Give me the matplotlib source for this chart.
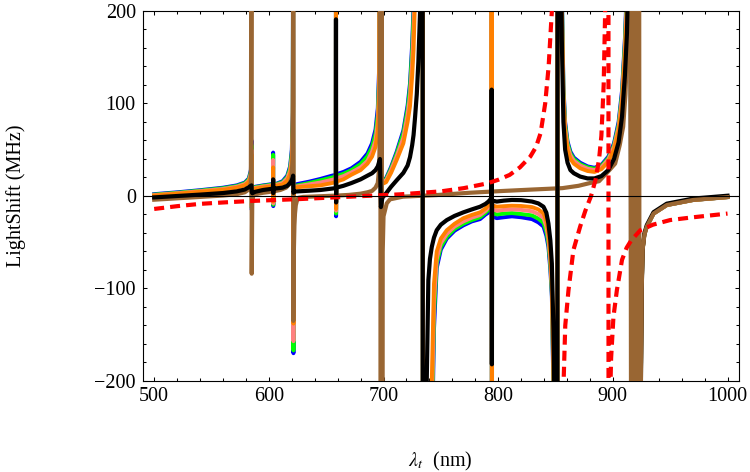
import numpy as np
import matplotlib
matplotlib.use('Agg')
import matplotlib.pyplot as plt

plt.rcParams['font.family'] = ['Liberation Serif', 'DejaVu Serif']
plt.rcParams['mathtext.fontset'] = 'stix'

# wavelength grid shared by the blue/green/pink/orange/black curves (nm)
lam_fam = [
    500, 520, 540, 560, 572, 579, 582.5, 584.3,
    584.9, 585.1,
    585.6, 588, 595, 601, 603.6,
    603.75, 603.85,
    604.0, 607, 612, 616, 618.5, 620, 620.8, 621.15,
    621.45,
    621.8, 625, 635, 645, 655, 658.4,
    658.55, 658.65,
    658.8, 665, 672, 680, 686, 690, 693, 695, 696.2, 696.9,
    697.7, 699, 702.3, 706.6, 711.5, 717.3, 721, 723.1, 725, 726.2, 727.5, 729, 730.4, 731.9, 733.5, 734.0,
    734.4, 736.5, 737.7, 739.1, 740.5, 742.1, 744, 746.4, 750, 755.2, 762, 769.6, 777, 784.2, 789, 791.5, 793.3, 794.1,
    794.3, 794.5,
    794.7, 798.8, 805, 812, 820, 829.5, 835, 839.5, 842, 843.8, 845.5, 846.8, 848.2, 849.7, 851.5,
    851.9, 854, 855.5, 856.9, 858.4, 860.5, 863, 866, 871.5, 878, 884, 890, 896, 901, 905, 908, 910.5, 912.3, 913.6,
    914.8, 916.8, 918.8, 921, 923.2,
    924.5, 925.2, 926, 927.5, 929.6, 935.5, 947, 970, 1000,
]

# light shift (MHz) of each curve on lam_fam
blue = [
    2, 4, 6.3, 9, 11.5, 14.5, 19, 28,
    60, -15,
    8, 10, 11.5, 12.5, 13,
    47, -11,
    13, 13.5, 16, 22, 32, 50, 90, 300,
    -170,
    12, 13, 15.5, 18.5, 22, 23,
    400, -22,
    23.5, 26, 30, 37, 46, 57, 72, 95, 140, 400,
    12.5, 16, 19.5, 31.5, 48, 71, 98, 122, 165, 205, 280, 390, 620, 850, 1000, 1000,
    -1000, -1000, -800, -500, -360, -290, -145, -78, -58, -46, -37.5, -31.8, -27.5, -25, -20, -18, -10, -3,
    1000, -1000,
    -22, -24, -23, -22, -23, -25, -28.5, -33, -43, -55, -80, -109, -215, -460, -1000,
    1000, 450, 225, 120, 80, 59, 48, 41.5, 36, 32, 30.5, 33.5, 42.5, 57, 80, 114, 170, 230, 345,
    1000, -1000, 1000, -1000, -1000,
    -200, -100, -58, -42, -33, -19, -9.8, -4.3, -1.2,
]
green = [
    1.5, 3.5, 5.8, 8.4, 10.8, 13.8, 18, 26,
    55, -13,
    7.5, 9.5, 11, 12, 12.5,
    44.5, -9.5,
    12.5, 13, 15, 20.5, 30, 46, 82, 280,
    -167,
    10.5, 11.5, 14, 17, 20, 21,
    400, -19,
    21.5, 24, 28, 34.5, 43, 53, 67, 88, 130, 400,
    12, 15.5, 18.5, 30, 46, 68, 94, 117, 158, 196, 265, 370, 600, 830, 980, 1000,
    -1000, -980, -750, -460, -330, -265, -130, -73, -55, -44, -35.5, -30, -26, -23, -18, -15, -9, -2.5,
    1000, -1000,
    -18, -20, -19, -18.5, -19.5, -21, -24.5, -29, -38.5, -51, -75, -105, -205, -440, -1000,
    1000, 440, 220, 116, 77, 57, 46, 40, 34.5, 31, 29.5, 32.5, 41, 55, 77, 110, 165, 222, 335,
    1000, -1000, 1000, -1000, -1000,
    -200, -100, -58, -42, -33, -19, -9.8, -4.3, -1.2,
]
pink = [
    1, 3, 5.2, 7.6, 10, 12.8, 16.5, 24,
    50, -12,
    7, 8.8, 10.3, 11.3, 12,
    39, -8,
    12, 12.3, 14, 19, 27, 41, 72, 250,
    -157,
    9.5, 10.5, 12.5, 14.6, 17.5, 18.5,
    400, -16,
    19, 21.5, 25.5, 31, 38, 48, 60, 80, 120, 400,
    11, 14.5, 17, 28, 43, 63, 88, 108, 145, 180, 245, 340, 560, 780, 950, 1000,
    -1000, -950, -700, -420, -300, -240, -115, -68, -51, -41, -33, -27.5, -23.5, -20.6, -16, -12.5, -7.5, -2,
    1000, -1000,
    -14, -16, -15, -14.5, -15, -16.5, -19.5, -24, -33, -46, -70, -100, -195, -420, -1000,
    1000, 420, 210, 110, 73, 54, 44, 38, 33, 29.5, 28, 31, 39.5, 53, 74, 106, 158, 212, 320,
    1000, -1000, 1000, -1000, -1000,
    -200, -100, -58, -42, -33, -19, -9.8, -4.3, -1.2,
]
orange = [
    0.5, 2.5, 4.5, 6.7, 9, 11.5, 15, 21,
    45, -10,
    6, 8, 9.3, 10.3, 10.8,
    31, -6,
    10.8, 11.2, 12.5, 16.5, 23, 34, 58, 200,
    -138,
    8.7, 9.5, 10.5, 11.5, 14, 15,
    400, -14,
    15.5, 18, 23, 28, 35, 42.6, 53, 70, 105, 400,
    10, 13, 15, 25, 39, 57, 80, 97, 130, 158, 215, 300, 500, 700, 900, 1000,
    -1000, -900, -600, -350, -250, -200, -95, -60, -46, -37, -30, -24, -20.5, -17.7, -13.5, -9.8, -5.5, -1.5,
    1000, -1000,
    -10, -11.6, -11, -10.5, -10.8, -12, -14.5, -18.8, -27, -40, -62, -91, -181, -400, -1000,
    1000, 400, 200, 104, 68, 50, 40, 35, 30, 27, 26, 29, 37, 50, 70, 100, 150, 200, 300,
    1000, -1000, 1000, -1000, -1000,
    -200, -100, -58, -42, -33, -19, -9.8, -4.3, -1.2,
]
black = [
    -1.5, 0, 1.5, 3.2, 5, 7, 9.5, 11,
    11.5, 4,
    3, 4.5, 6.5, 7.5, 8,
    18, 3,
    8, 8.3, 9, 11, 14, 17, 20, 22,
    3.5,
    4.7, 5, 5.7, 6.5, 8, 8.5,
    191, -7,
    9, 11, 14, 18, 22, 24.6, 28, 32, 37, 40,
    -12, -2, 3, 10, 17, 25, 33, 42, 55, 66, 85, 110, 145, 200, 500, 1000,
    -1000, -320, -200, -91, -68, -55, -45, -37, -31, -26, -21.5, -17.7, -14.5, -11.6, -8.5, -6, -3.5, -1,
    115, -182,
    -5, -6, -5, -4.3, -4.5, -6, -8, -11.6, -18, -29.6, -48, -73, -145, -300, -1000,
    1000, 400, 170, 80, 50, 36, 28, 24.6, 21, 19, 19, 21.5, 28, 40, 58, 86, 130, 176, 250,
    1000, -1000, 1000, -1000, -1000,
    -198, -98, -56.5, -40.5, -31.5, -17.5, -8.3, -2.8, 0.3,
]

lam_brown = [
    500, 520, 540, 560, 572, 579, 582.5, 584.3, 584.85, 585.05, 585.5, 586.5,
    595, 603.8, 610, 615, 618, 619.8, 620.7, 621.1, 621.25, 621.35, 621.8, 622.3, 622.8, 623.5, 624.5, 625.7,
    630, 640, 650, 660, 670, 680, 686, 690, 693, 695, 696.2, 696.8, 697.1, 697.6, 698.2, 698.8,
    699.3, 700, 702.8, 705.7, 717, 746, 775, 805, 830, 856, 870, 880, 888, 897, 902, 906, 909, 911, 912.5, 913.6,
    914.6, 916.6, 918.6, 920.6, 922.6, 923.6,
    924.5, 925.2, 926, 927.5, 929.6, 935.5, 947, 970, 1000,
]
brown = [
    -4, -2.5, -1, 0.5, 2, 4, 7, 14, 400, -84, -8, 1.5,
    3.5, 5, 6.5, 9, 13, 20, 40, 100, 1000, -135, -60, -32, -19, -10, -5, -2,
    -1, -0.5, 0, 0.5, 1.2, 2.5, 4, 5.5, 9, 14, 30, 70, 1000, -1000, 1000, -1000,
    -60, -22, -8, -3.6, -0.7, 1, 3.5, 5.5, 7, 8.5, 11, 14, 16, 28, 35, 55, 75, 110, 160, 230,
    1000, -1000, 1000, -1000, 1000, -1000,
    -200, -100, -58, -42, -33, -19, -9.8, -4.3, -1.2,
]

lam_red = [
    500, 520, 540, 560, 584, 627, 671, 714.5, 750, 770, 790, 800, 810, 819, 828, 833, 837, 841, 844, 846.8, 848.5,
    852,
    856.2, 857.2, 858.5, 861.3, 865.6, 871.5, 876, 881, 885, 888, 890, 892, 893.3, 894.5, 895.5, 896.1, 896.3,
    897.0, 897.6, 898.5, 900.5, 903.5, 908, 912, 916, 924, 935, 950, 970, 1000,
]
red = [
    -14, -11, -8.5, -7, -5.4, -3.3, -0.7, 1.8, 5, 8.5, 13.5, 17.5, 22.8, 31, 42.6, 53, 68, 100, 140, 200, 300,
    np.nan,
    -300, -195, -140, -102, -58.5, -33, -16, 0, 18, 40, 65, 120, 200, 320, 600, 1000, -1000,
    -350, -220, -175, -131, -102, -69, -56, -48, -37, -31, -26, -23, -19,
]

lam_fam = np.array(lam_fam)
black = np.array(black)

fig = plt.figure(figsize=(7.5, 4.72), dpi=100)
ax = fig.add_axes([0.1903, 0.1928, 0.795, 0.7839])

lw = 2.8
ax.plot(lam_fam, blue, color='#0000ff', lw=lw, zorder=2.0)
ax.plot(lam_fam, green, color='#00ff00', lw=lw, zorder=2.1)
ax.plot(lam_fam, pink, color='#ff8080', lw=lw, zorder=2.2)
ax.plot(lam_fam, orange, color='#ff8000', lw=lw, zorder=2.3)

# the black curve goes under the brown one only around the 917-921 nm band
cut = lam_fam >= 913.6
keep = lam_fam <= 913.6
ax.plot(lam_fam[cut], black[cut], color='black', lw=3.0, zorder=2.5)
ax.plot(lam_brown, brown, color='#996633', lw=3.0, zorder=3)
ax.plot(lam_fam[keep], black[keep], color='black', lw=3.0, zorder=4)

ax.plot(lam_red, red, color='#ff0000', lw=3.0, zorder=5,
        linestyle=(0, (2.4, 1.45)), dash_capstyle='butt')

ax.axhline(0, color='black', lw=0.8, zorder=6)

ax.set_xlim(490, 1010)
ax.set_ylim(-200, 200)
ax.set_xticks(range(500, 1001, 100))
ax.set_xticks(range(500, 1001, 20), minor=True)
ax.set_yticks(range(-200, 201, 100))
ax.set_yticks(range(-200, 201, 20), minor=True)
ax.tick_params(which='both', direction='in', top=True, right=True,
               width=0.75, labelsize=14.5, colors='black')
ax.tick_params(which='major', length=3.0)
ax.tick_params(which='minor', length=1.9)
ax.tick_params(axis='y', pad=5)
ax.tick_params(axis='x', pad=4)
for s in ax.spines.values():
    s.set_linewidth(0.8)

fig.text(16 / 750, 1 - 196 / 472, 'LightShift (MHz)', rotation=90,
         ha='center', va='center', fontsize=14.5)
fig.text(440 / 750, 1 - 461 / 472, r'$\lambda_t$  (nm)',
         ha='center', va='center', fontsize=14.5)

fig.savefig('out.png', dpi=100)
